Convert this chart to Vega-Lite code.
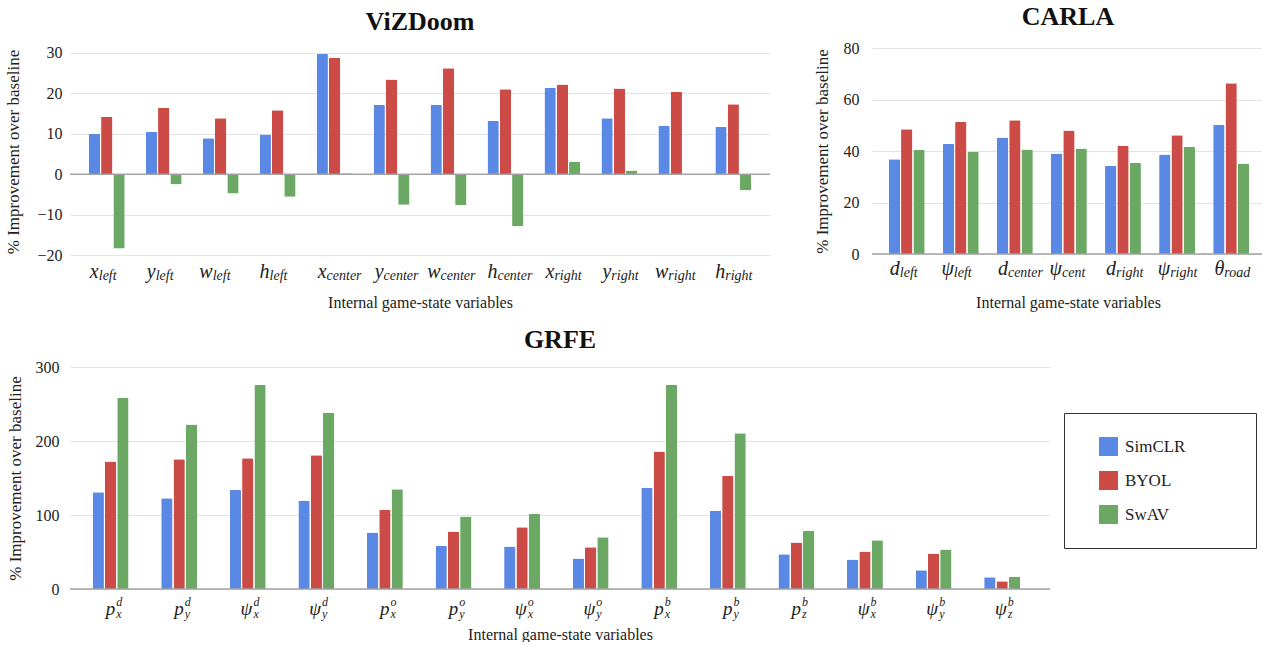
{
  "$schema": "https://vega.github.io/schema/vega-lite/v6.json",
  "padding": {"left": 4, "top": 4, "right": 0, "bottom": 0},
  "background": "white",
  "config": {
    "font": "Liberation Serif",
    "view": {"stroke": null},
    "axis": {"labelFont": "Liberation Serif", "titleFont": "Liberation Serif", "labelColor": "#222", "titleColor": "#222", "titleFontWeight": "normal", "domain": false, "ticks": false, "gridColor": "#e3e3e3", "gridWidth": 1},
    "legend": {"labelFont": "Liberation Serif", "titleFont": "Liberation Serif"},
    "title": {"font": "Liberation Serif", "fontWeight": "bold", "fontSize": 26, "color": "#111", "frame": "group", "anchor": "middle"},
    "text": {"font": "Liberation Serif"}
  },
  "datasets": {
    "viz": [
      {"var": "x_left", "method": "SimCLR", "value": 10.0}, {"var": "x_left", "method": "BYOL", "value": 14.2}, {"var": "x_left", "method": "SwAV", "value": -18.4},
      {"var": "y_left", "method": "SimCLR", "value": 10.4}, {"var": "y_left", "method": "BYOL", "value": 16.4}, {"var": "y_left", "method": "SwAV", "value": -2.5},
      {"var": "w_left", "method": "SimCLR", "value": 8.9}, {"var": "w_left", "method": "BYOL", "value": 13.8}, {"var": "w_left", "method": "SwAV", "value": -4.8},
      {"var": "h_left", "method": "SimCLR", "value": 9.8}, {"var": "h_left", "method": "BYOL", "value": 15.8}, {"var": "h_left", "method": "SwAV", "value": -5.6},
      {"var": "x_center", "method": "SimCLR", "value": 29.7}, {"var": "x_center", "method": "BYOL", "value": 28.8}, {"var": "x_center", "method": "SwAV", "value": 0.2},
      {"var": "y_center", "method": "SimCLR", "value": 17.1}, {"var": "y_center", "method": "BYOL", "value": 23.4}, {"var": "y_center", "method": "SwAV", "value": -7.6},
      {"var": "w_center", "method": "SimCLR", "value": 17.1}, {"var": "w_center", "method": "BYOL", "value": 26.2}, {"var": "w_center", "method": "SwAV", "value": -7.7},
      {"var": "h_center", "method": "SimCLR", "value": 13.2}, {"var": "h_center", "method": "BYOL", "value": 21.0}, {"var": "h_center", "method": "SwAV", "value": -12.9},
      {"var": "x_right", "method": "SimCLR", "value": 21.3}, {"var": "x_right", "method": "BYOL", "value": 22.2}, {"var": "x_right", "method": "SwAV", "value": 3.1},
      {"var": "y_right", "method": "SimCLR", "value": 13.8}, {"var": "y_right", "method": "BYOL", "value": 21.2}, {"var": "y_right", "method": "SwAV", "value": 0.9},
      {"var": "w_right", "method": "SimCLR", "value": 12.0}, {"var": "w_right", "method": "BYOL", "value": 20.3}, {"var": "w_right", "method": "SwAV", "value": 0},
      {"var": "h_right", "method": "SimCLR", "value": 11.7}, {"var": "h_right", "method": "BYOL", "value": 17.3}, {"var": "h_right", "method": "SwAV", "value": -4.0}
    ],
    "vizlab": [
      {"var": "x_left", "main": "x", "sub": "left"}, {"var": "y_left", "main": "y", "sub": "left"}, {"var": "w_left", "main": "w", "sub": "left"}, {"var": "h_left", "main": "h", "sub": "left"},
      {"var": "x_center", "main": "x", "sub": "center"}, {"var": "y_center", "main": "y", "sub": "center"}, {"var": "w_center", "main": "w", "sub": "center"}, {"var": "h_center", "main": "h", "sub": "center"},
      {"var": "x_right", "main": "x", "sub": "right"}, {"var": "y_right", "main": "y", "sub": "right"}, {"var": "w_right", "main": "w", "sub": "right"}, {"var": "h_right", "main": "h", "sub": "right"}
    ],
    "carla": [
      {"var": "d_left", "method": "SimCLR", "value": 36.8}, {"var": "d_left", "method": "BYOL", "value": 48.4}, {"var": "d_left", "method": "SwAV", "value": 40.4},
      {"var": "psi_left", "method": "SimCLR", "value": 42.7}, {"var": "psi_left", "method": "BYOL", "value": 51.3}, {"var": "psi_left", "method": "SwAV", "value": 39.7},
      {"var": "d_center", "method": "SimCLR", "value": 45.2}, {"var": "d_center", "method": "BYOL", "value": 51.9}, {"var": "d_center", "method": "SwAV", "value": 40.6},
      {"var": "psi_cent", "method": "SimCLR", "value": 39.0}, {"var": "psi_cent", "method": "BYOL", "value": 48.0}, {"var": "psi_cent", "method": "SwAV", "value": 41.0},
      {"var": "d_right", "method": "SimCLR", "value": 34.2}, {"var": "d_right", "method": "BYOL", "value": 41.9}, {"var": "d_right", "method": "SwAV", "value": 35.3},
      {"var": "psi_right", "method": "SimCLR", "value": 38.6}, {"var": "psi_right", "method": "BYOL", "value": 46.1}, {"var": "psi_right", "method": "SwAV", "value": 41.6},
      {"var": "theta_road", "method": "SimCLR", "value": 50.1}, {"var": "theta_road", "method": "BYOL", "value": 66.3}, {"var": "theta_road", "method": "SwAV", "value": 35.1}
    ],
    "carlalab": [
      {"var": "d_left", "main": "d", "sub": "left"}, {"var": "psi_left", "main": "ψ", "sub": "left"}, {"var": "d_center", "main": "d", "sub": "center"},
      {"var": "psi_cent", "main": "ψ", "sub": "cent"}, {"var": "d_right", "main": "d", "sub": "right"}, {"var": "psi_right", "main": "ψ", "sub": "right"},
      {"var": "theta_road", "main": "θ", "sub": "road"}
    ],
    "grfe": [
      {"var": "pdx", "method": "SimCLR", "value": 130.6}, {"var": "pdx", "method": "BYOL", "value": 172.2}, {"var": "pdx", "method": "SwAV", "value": 258.0},
      {"var": "pdy", "method": "SimCLR", "value": 122.5}, {"var": "pdy", "method": "BYOL", "value": 175.3}, {"var": "pdy", "method": "SwAV", "value": 222.3},
      {"var": "psidx", "method": "SimCLR", "value": 133.8}, {"var": "psidx", "method": "BYOL", "value": 176.7}, {"var": "psidx", "method": "SwAV", "value": 275.6},
      {"var": "psidy", "method": "SimCLR", "value": 119.3}, {"var": "psidy", "method": "BYOL", "value": 180.7}, {"var": "psidy", "method": "SwAV", "value": 238.1},
      {"var": "pox", "method": "SimCLR", "value": 76.4}, {"var": "pox", "method": "BYOL", "value": 106.6}, {"var": "pox", "method": "SwAV", "value": 134.7},
      {"var": "poy", "method": "SimCLR", "value": 58.3}, {"var": "poy", "method": "BYOL", "value": 77.7}, {"var": "poy", "method": "SwAV", "value": 98.1},
      {"var": "psiox", "method": "SimCLR", "value": 57.4}, {"var": "psiox", "method": "BYOL", "value": 83.6}, {"var": "psiox", "method": "SwAV", "value": 101.7},
      {"var": "psioy", "method": "SimCLR", "value": 41.1}, {"var": "psioy", "method": "BYOL", "value": 56.5}, {"var": "psioy", "method": "SwAV", "value": 70.0},
      {"var": "pbx", "method": "SimCLR", "value": 136.9}, {"var": "pbx", "method": "BYOL", "value": 185.7}, {"var": "pbx", "method": "SwAV", "value": 275.6},
      {"var": "pby", "method": "SimCLR", "value": 105.7}, {"var": "pby", "method": "BYOL", "value": 152.7}, {"var": "pby", "method": "SwAV", "value": 210.6},
      {"var": "pbz", "method": "SimCLR", "value": 47.0}, {"var": "pbz", "method": "BYOL", "value": 62.8}, {"var": "pbz", "method": "SwAV", "value": 78.6},
      {"var": "psibx", "method": "SimCLR", "value": 39.8}, {"var": "psibx", "method": "BYOL", "value": 50.6}, {"var": "psibx", "method": "SwAV", "value": 66.0},
      {"var": "psiby", "method": "SimCLR", "value": 25.3}, {"var": "psiby", "method": "BYOL", "value": 47.9}, {"var": "psiby", "method": "SwAV", "value": 53.3},
      {"var": "psibz", "method": "SimCLR", "value": 15.8}, {"var": "psibz", "method": "BYOL", "value": 10.4}, {"var": "psibz", "method": "SwAV", "value": 16.7}
    ],
    "grfelab": [
      {"var": "pdx", "main": "p", "sup": "d", "sub": "x"}, {"var": "pdy", "main": "p", "sup": "d", "sub": "y"},
      {"var": "psidx", "main": "ψ", "sup": "d", "sub": "x"}, {"var": "psidy", "main": "ψ", "sup": "d", "sub": "y"},
      {"var": "pox", "main": "p", "sup": "o", "sub": "x"}, {"var": "poy", "main": "p", "sup": "o", "sub": "y"},
      {"var": "psiox", "main": "ψ", "sup": "o", "sub": "x"}, {"var": "psioy", "main": "ψ", "sup": "o", "sub": "y"},
      {"var": "pbx", "main": "p", "sup": "b", "sub": "x"}, {"var": "pby", "main": "p", "sup": "b", "sub": "y"},
      {"var": "pbz", "main": "p", "sup": "b", "sub": "z"}, {"var": "psibx", "main": "ψ", "sup": "b", "sub": "x"},
      {"var": "psiby", "main": "ψ", "sup": "b", "sub": "y"}, {"var": "psibz", "main": "ψ", "sup": "b", "sub": "z"}
    ]
  },
  "resolve": {"scale": {"color": "independent"}, "legend": {"color": "independent"}},
  "spacing": 17,
  "vconcat": [
    {
      "resolve": {"scale": {"color": "independent"}, "legend": {"color": "independent"}},
      "spacing": 42,
      "hconcat": [
        {
          "title": {"text": "ViZDoom", "offset": 10, "font": "Liberation Serif", "fontWeight": "bold", "fontSize": 26},
          "width": 700,
          "height": 207,
          "layer": [
            {
              "data": {"name": "viz"},
              "mark": {"type": "bar", "cornerRadius": 1},
              "encoding": {
                "x": {"field": "var", "type": "nominal", "scale": {"domain": ["x_left","y_left","w_left","h_left","x_center","y_center","w_center","h_center","x_right","y_right","w_right","h_right"], "paddingInner": 0.37, "paddingOuter": 0.33},
                      "axis": {"labels": false, "title": "Internal game-state variables", "titleFont": "Liberation Serif", "titleFontSize": 16, "titlePadding": 39}},
                "xOffset": {"field": "method", "type": "nominal", "scale": {"domain": ["SimCLR", "BYOL", "SwAV"], "paddingInner": 0.08}},
                "y": {"field": "value", "type": "quantitative", "scale": {"domain": [-20, 31.2], "nice": false, "zero": false},
                      "axis": {"values": [-20, -10, 0, 10, 20, 30], "labelFont": "Liberation Serif", "labelFontSize": 16, "labelPadding": 8, "title": "% Improvement over baseline", "titleFont": "Liberation Serif", "titleFontSize": 17, "titlePadding": 14}},
                "color": {"field": "method", "type": "nominal", "scale": {"domain": ["SimCLR", "BYOL", "SwAV"], "range": ["#5a89e5", "#cc4b47", "#6aa864"]}, "legend": null}
              }
            },
            {"data": {"values": [{}]}, "mark": {"type": "rule", "color": "#a3a3a3", "strokeWidth": 1.5}, "encoding": {"y": {"datum": 0}}},
            {"data": {"name": "vizlab"}, "mark": {"type": "text", "align": "right", "dx": -8, "dy": 17, "font": "Liberation Serif", "fontSize": 20, "fontStyle": "italic", "color": "#222"},
             "encoding": {"x": {"field": "var", "type": "nominal"}, "y": {"datum": -20}, "text": {"field": "main"}}},
            {"data": {"name": "vizlab"}, "mark": {"type": "text", "align": "left", "dx": -8, "dy": 21, "font": "Liberation Serif", "fontSize": 14, "fontStyle": "italic", "color": "#222"},
             "encoding": {"x": {"field": "var", "type": "nominal"}, "y": {"datum": -20}, "text": {"field": "sub"}}}
          ]
        },
        {
          "title": {"text": "CARLA", "offset": 10, "font": "Liberation Serif", "fontWeight": "bold", "fontSize": 26},
          "width": 392,
          "height": 206,
          "layer": [
            {
              "data": {"name": "carla"},
              "mark": {"type": "bar", "cornerRadius": 1},
              "encoding": {
                "x": {"field": "var", "type": "nominal", "scale": {"domain": ["d_left","psi_left","d_center","psi_cent","d_right","psi_right","theta_road"], "paddingInner": 0.37, "paddingOuter": 0.31},
                      "axis": {"labels": false, "title": "Internal game-state variables", "titleFont": "Liberation Serif", "titleFontSize": 16, "titlePadding": 40}},
                "xOffset": {"field": "method", "type": "nominal", "scale": {"domain": ["SimCLR", "BYOL", "SwAV"], "paddingInner": 0.08}},
                "y": {"field": "value", "type": "quantitative", "scale": {"domain": [0, 80], "nice": false},
                      "axis": {"values": [0, 20, 40, 60, 80], "labelFont": "Liberation Serif", "labelFontSize": 16, "labelPadding": 13, "title": "% Improvement over baseline", "titleFont": "Liberation Serif", "titleFontSize": 17, "titlePadding": 12}},
                "color": {"field": "method", "type": "nominal", "scale": {"domain": ["SimCLR", "BYOL", "SwAV"], "range": ["#5a89e5", "#cc4b47", "#6aa864"]}, "legend": null}
              }
            },
            {"data": {"values": [{}]}, "mark": {"type": "rule", "color": "#a3a3a3", "strokeWidth": 1.5}, "encoding": {"y": {"datum": 0}}},
            {"data": {"name": "carlalab"}, "mark": {"type": "text", "align": "right", "dx": -6, "dy": 15, "font": "Liberation Serif", "fontSize": 20, "fontStyle": "italic", "color": "#222"},
             "encoding": {"x": {"field": "var", "type": "nominal"}, "y": {"datum": 0}, "text": {"field": "main"}}},
            {"data": {"name": "carlalab"}, "mark": {"type": "text", "align": "left", "dx": -6, "dy": 19, "font": "Liberation Serif", "fontSize": 14, "fontStyle": "italic", "color": "#222"},
             "encoding": {"x": {"field": "var", "type": "nominal"}, "y": {"datum": 0}, "text": {"field": "sub"}}}
          ]
        }
      ]
    },
    {
      "title": {"text": "GRFE", "offset": 6, "font": "Liberation Serif", "fontWeight": "bold", "fontSize": 26},
      "width": 980,
      "height": 222,
      "layer": [
        {
          "data": {"name": "grfe"},
          "mark": {"type": "bar", "cornerRadius": 1},
          "encoding": {
            "x": {"field": "var", "type": "nominal", "scale": {"domain": ["pdx","pdy","psidx","psidy","pox","poy","psiox","psioy","pbx","pby","pbz","psibx","psiby","psibz"], "paddingInner": 0.37, "paddingOuter": 0.33},
                  "axis": {"labels": false, "title": "Internal game-state variables", "titleFont": "Liberation Serif", "titleFontSize": 16, "titlePadding": 37}},
            "xOffset": {"field": "method", "type": "nominal", "scale": {"domain": ["SimCLR", "BYOL", "SwAV"], "paddingInner": 0.1}},
            "y": {"field": "value", "type": "quantitative", "scale": {"domain": [0, 300], "nice": false},
                  "axis": {"values": [0, 100, 200, 300], "labelFont": "Liberation Serif", "labelFontSize": 16, "labelPadding": 11, "title": "% Improvement over baseline", "titleFont": "Liberation Serif", "titleFontSize": 17, "titlePadding": 11}},
            "color": {"field": "method", "type": "nominal", "scale": {"domain": ["SimCLR", "BYOL", "SwAV"], "range": ["#5a89e5", "#cc4b47", "#6aa864"]},
                      "legend": {"orient": "none", "legendX": 994, "legendY": 46, "direction": "vertical", "title": "\u00a0", "titleOrient": "right", "titlePadding": 47,
                                 "strokeColor": "#333", "padding": 24, "symbolType": "square", "symbolSize": 361, "symbolStrokeWidth": 0, "symbolOffset": 11,
                                 "labelFontSize": 17, "labelFont": "Liberation Serif", "titleFont": "Liberation Serif", "labelColor": "#222", "labelOffset": 7, "rowPadding": 15}}
          }
        },
        {"data": {"values": [{}]}, "mark": {"type": "rule", "color": "#a3a3a3", "strokeWidth": 1.5}, "encoding": {"y": {"datum": 0}}},
        {"data": {"name": "grfelab"}, "mark": {"type": "text", "align": "right", "dx": 1, "dy": 20, "font": "Liberation Serif", "fontSize": 19, "fontStyle": "italic", "color": "#222"},
         "encoding": {"x": {"field": "var", "type": "nominal"}, "y": {"datum": 0}, "text": {"field": "main"}}},
        {"data": {"name": "grfelab"}, "mark": {"type": "text", "align": "left", "dx": 2, "dy": 13, "font": "Liberation Serif", "fontSize": 12, "fontStyle": "italic", "color": "#222"},
         "encoding": {"x": {"field": "var", "type": "nominal"}, "y": {"datum": 0}, "text": {"field": "sup"}}},
        {"data": {"name": "grfelab"}, "mark": {"type": "text", "align": "left", "dx": 2, "dy": 25, "font": "Liberation Serif", "fontSize": 12, "fontStyle": "italic", "color": "#222"},
         "encoding": {"x": {"field": "var", "type": "nominal"}, "y": {"datum": 0}, "text": {"field": "sub"}}}
      ]
    }
  ]
}
